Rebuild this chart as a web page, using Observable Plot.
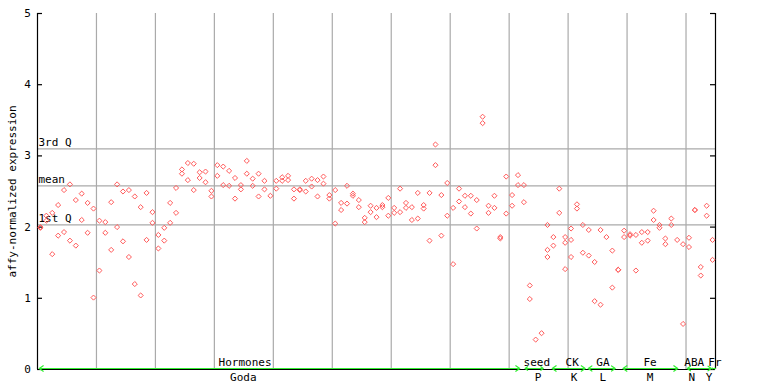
<!DOCTYPE html>
<html>
<head>
<meta charset="utf-8">
<script src="https://cdn.jsdelivr.net/npm/d3@7"></script>
<script src="https://cdn.jsdelivr.net/npm/@observablehq/plot@0.6"></script>
<style>
  html, body { margin: 0; padding: 0; background: #fff; }
  #chart svg { display: block; }
</style>
</head>
<body>
<div id="chart"></div>
<script>
// expression values per sample (replicates), samples 0..114
const expr = [
  [2.00, 1.99], [2.16, 2.09], [2.20, 1.62], [2.31, 1.88], [2.52, 1.93],
  [2.60, 1.81], [2.38, 1.74], [2.47, 2.10], [2.34, 1.92], [2.26, 1.01],
  [2.09, 1.39], [2.07, 1.92], [2.35, 1.68], [2.60, 2.00], [2.50, 1.80],
  [2.52, 1.58], [2.43, 1.20], [2.28, 1.04], [2.48, 1.82], [2.21, 2.06],
  [1.89, 1.70], [1.99, 1.81], [2.34, 2.06], [2.55, 2.20], [2.81, 2.75],
  [2.90, 2.66], [2.89, 2.52], [2.77, 2.69], [2.78, 2.63], [2.51, 2.43],
  [2.87, 2.72], [2.85, 2.59], [2.79, 2.58], [2.69, 2.40], [2.59, 2.53],
  [2.93, 2.75], [2.68, 2.58], [2.75, 2.43], [2.65, 2.53], [2.44],
  [2.65, 2.54], [2.70, 2.65], [2.72, 2.66], [2.53, 2.40], [2.53, 2.52],
  [2.65, 2.50], [2.68, 2.57], [2.66, 2.43], [2.71, 2.61], [2.45, 2.40],
  [2.52, 2.05], [2.34, 2.24], [2.58, 2.33], [2.47, 2.44], [2.38, 2.28],
  [2.13, 2.07], [2.30, 2.21], [2.27, 2.14], [2.31, 2.28], [2.41, 2.16],
  [2.27, 2.20], [2.54, 2.21], [2.34, 2.27], [2.28, 2.10], [2.48, 2.12],
  [2.31, 2.26], [2.48, 1.81], [3.16, 2.87], [2.45, 1.88], [2.62, 2.16],
  [2.27, 1.48], [2.54, 2.36], [2.44, 2.28], [2.44, 2.19], [2.38, 1.98],
  [3.55, 3.46], [2.30, 2.20], [2.44, 2.27], [1.86, 1.84], [2.71, 2.19],
  [2.45, 2.30], [2.73, 2.59], [2.59, 2.35], [1.18, 0.99], [0.42],
  [0.51], [2.03, 1.68, 1.58], [1.86, 1.74], [2.54, 2.20], [1.86, 1.78, 1.41],
  [1.98, 1.82, 1.58], [2.32, 2.26], [2.03, 1.64], [1.96, 1.60], [1.51, 0.96],
  [1.96, 0.91], [1.86], [1.67, 1.15], [1.40, 1.40], [1.95, 1.86],
  [1.90, 1.88], [1.89, 1.39], [1.93, 1.78], [1.93, 1.81], [2.23, 2.10],
  [2.03, 1.99], [1.84, 1.76], [2.12, 2.03], [1.82], [1.76, 0.64],
  [1.85, 1.72], [2.24, 2.24], [1.44, 1.32], [2.30, 2.16], [1.82, 1.54]
];
const sampleCount = 115;

// summary reference lines
const refNames = ["3rd Q", "mean", "1st Q"];
const refValues = [3.10, 2.58, 2.03];

// axis ticks
const yTicks = [0, 1, 2, 3, 4, 5];
const gridX = [10, 20, 30, 40, 50, 60, 70, 80, 90, 100, 110];

// experiment groups (sample-index units)
const groupTop = ["Hormones", "seed", "CK", "GA", "Fe", "ABA", "Fr"];
const groupBottom = ["Goda", "P", "K", "L", "M", "N", "Y"];
const groupTopAt = [35.2, 84.7, 90.7, 95.9, 103.9, 111.4, 114.9];
const groupBottomAt = [34.9, 84.9, 91.0, 95.9, 103.9, 111.0, 113.9];
const groupStart = [0.3, 82.7, 87.3, 93.4, 99.3, 110.2, 114.4];
const groupEnd = [81.8, 85.8, 92.9, 98.0, 108.6, 114.3, 115.0];

const points = [];
expr.forEach((vals, i) => vals.forEach((v, k) => points.push({s: i + 0.5, v, k})));

const groups = groupTop.map((name, i) => ({
  top: name, bottom: groupBottom[i], topAt: groupTopAt[i], bottomAt: groupBottomAt[i],
  start: groupStart[i], end: groupEnd[i], mid: (groupStart[i] + groupEnd[i]) / 2
}));
const refs = refNames.map((n, i) => ({name: n, value: refValues[i]}));

const font = "'DejaVu Sans Mono', 'Liberation Mono', monospace";
const grey = "#aaaaaa";
const red = "#ff5a5a";
const green = "#33ee33";
const tickLen = 5 / ((715 - 37) / sampleCount);

const chart = Plot.plot({
  width: 768,
  height: 384,
  marginLeft: 37,
  marginRight: 53,
  marginTop: 13,
  marginBottom: 15,
  style: {fontFamily: font, fontSize: "11px", background: "#fff", overflow: "visible"},
  x: {domain: [0, sampleCount], axis: null},
  y: {domain: [0, 5], axis: null},
  marks: [
    // vertical grid
    Plot.ruleX(gridX, {x: d => d, y1: 0, y2: 5, stroke: grey, strokeWidth: 1.2}),
    // summary lines
    Plot.ruleY(refs, {y: "value", x1: 0, x2: sampleCount, stroke: grey, strokeWidth: 1.2}),
    Plot.text(refs, {x: 0, y: "value", text: "name", textAnchor: "start", dx: 1, dy: -6, fill: "#000", fontSize: 11}),
    // axes frame
    Plot.ruleX([0], {y1: 0, y2: 5, stroke: "#000", strokeWidth: 1.2}),
    Plot.ruleX([sampleCount], {y1: 0, y2: 5, stroke: "#000", strokeWidth: 1.2}),
    Plot.ruleY([0], {x1: 0, x2: sampleCount, stroke: "#000", strokeWidth: 1.2}),
    // ticks inward
    Plot.ruleY(yTicks, {y: d => d, x1: 0, x2: tickLen, stroke: "#000", strokeWidth: 1.2}),
    Plot.ruleY(yTicks, {y: d => d, x1: sampleCount - tickLen, x2: sampleCount, stroke: "#000", strokeWidth: 1.2}),
    Plot.text(yTicks, {x: 0, y: d => d, text: d => String(d), dx: -10, textAnchor: "middle", fill: "#000"}),
    // y-axis title
    Plot.text(["affy-normalized expression"], {x: 0, y: 2.5, text: d => d, dx: -25, rotate: -90, textAnchor: "middle", fill: "#000"}),
    // group arrows (both directions)
    Plot.arrow(groups, {x1: "mid", x2: "end", y1: 0, y2: 0, dy: -1, stroke: green, strokeWidth: 1.2, headLength: 6, headAngle: 70, bend: 0}),
    Plot.arrow(groups, {x1: "mid", x2: "start", y1: 0, y2: 0, dy: -1, stroke: green, strokeWidth: 1.2, headLength: 6, headAngle: 70, bend: 0}),
    // group labels
    Plot.text(groups, {x: "topAt", y: 0, text: "top", dy: -7, textAnchor: "middle", fill: "#000"}),
    Plot.text(groups, {x: "bottomAt", y: 0, text: "bottom", dy: 8, textAnchor: "middle", fill: "#000"}),
    // points
    Plot.dot(points, {x: "s", y: "v", symbol: "diamond2", r: 2.3, stroke: red, strokeWidth: 1, fill: "none"})
  ]
});
document.getElementById("chart").appendChild(chart);
</script>
</body>
</html>
